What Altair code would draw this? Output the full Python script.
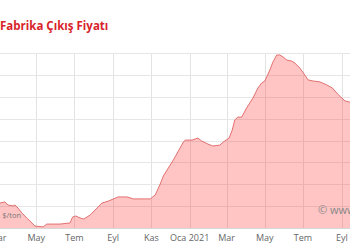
import altair as alt
import pandas as pd

# Price series ($/ton)
dates = [
    "2020-03-04", "2020-03-12", "2020-03-17", "2020-03-25", "2020-03-28", "2020-04-02",
    "2020-04-08", "2020-04-16", "2020-04-29", "2020-05-12", "2020-05-18", "2020-06-08",
    "2020-06-24", "2020-06-28", "2020-07-03", "2020-07-10", "2020-07-16", "2020-07-26",
    "2020-08-03", "2020-08-14", "2020-08-24", "2020-09-09", "2020-09-23", "2020-10-03",
    "2020-10-30", "2020-11-07", "2020-11-15", "2020-11-20", "2020-12-06", "2020-12-22",
    "2020-12-25", "2021-01-05", "2021-01-14", "2021-01-20", "2021-01-30", "2021-02-07",
    "2021-02-18", "2021-02-26", "2021-03-05", "2021-03-10", "2021-03-14", "2021-03-19",
    "2021-03-25", "2021-04-02", "2021-04-12", "2021-04-20", "2021-04-26", "2021-05-01",
    "2021-05-09", "2021-05-14", "2021-05-20", "2021-05-25", "2021-05-30", "2021-06-05",
    "2021-06-13", "2021-06-18", "2021-06-26", "2021-07-04", "2021-07-09", "2021-07-17",
    "2021-07-28", "2021-08-08", "2021-08-17", "2021-08-25", "2021-09-01", "2021-09-06",
    "2021-09-13", "2021-09-21",
]
values = [
    414, 419, 405, 401, 405, 391,
    369, 346, 309, 305, 318, 318,
    323, 350, 355, 346, 341, 359,
    382, 414, 423, 442, 442, 433,
    433, 451, 501, 538, 611, 693,
    702, 702, 711, 698, 684, 675,
    679, 698, 711, 748, 794, 807,
    807, 849, 894, 940, 963, 972,
    1022, 1059, 1091, 1091, 1082, 1068,
    1063, 1054, 1031, 999, 977, 972,
    968, 954, 940, 913, 894, 881,
    876, 871,
]

# x-axis ticks (every two months) and their Turkish labels
tick_dates = ["2020-03-01", "2020-05-01", "2020-07-01", "2020-09-01", "2020-11-01",
              "2021-01-01", "2021-03-01", "2021-05-01", "2021-07-01", "2021-09-01"]
tick_labels = ["Mar", "May", "Tem", "Eyl", "Kas", "Oca 2021", "Mar", "May", "Tem", "Eyl"]
y_ticks = [300, 400, 500, 600, 700, 800, 900, 1000, 1100]

title_text = "Fabrika Çıkış Fiyatı"
unit_text = "e, $/ton"
credit_text = "© www"

df = pd.DataFrame({"date": dates, "value": values})
ticks_df = pd.DataFrame({"date": tick_dates, "label": tick_labels})

x_scale = alt.Scale(
    type="utc",
    domain=[alt.DateTime(year=2020, month=3, date=1, utc=True),
            alt.DateTime(year=2021, month=9, date=14, utc=True)],
    range=[-2, 350],
)

x_enc = alt.X(
    "date:T",
    scale=x_scale,
    axis=alt.Axis(
        values=[alt.DateTime(year=int(d[:4]), month=int(d[5:7]), date=1, utc=True) for d in tick_dates],
        tickCount=30,
        labels=False,
        title=None,
        grid=True,
        gridColor="#e3e3e3",
        ticks=False,
        domain=True,
        domainColor="#d6d6d6",
    ),
)
y_enc = alt.Y(
    "value:Q",
    scale=alt.Scale(domain=[300, 1100], nice=False, zero=False),
    axis=alt.Axis(values=y_ticks, tickCount=30, labels=False, ticks=False, domain=False, title=None,
                  grid=True, gridColor="#e6e6e6"),
)

base = alt.Chart(df)
area = base.mark_area(clip=True, color="#ff3b3b", fillOpacity=0.3).encode(x=x_enc, y=y_enc)
line = base.mark_line(clip=True, color="#e27070", strokeWidth=1).encode(x="date:T", y="value:Q")

labels = alt.Chart(ticks_df).mark_text(
    align="center", baseline="middle", font="Open Sans", fontSize=9, color="#666666"
).encode(x="date:T", y=alt.value(185), text="label:N")

title = alt.Chart(pd.DataFrame({"t": [title_text]})).mark_text(
    align="left", baseline="middle", font="Open Sans", fontSize=11.5, fontWeight="bold", color="#d8232a"
).encode(x=alt.value(0), y=alt.value(-26), text="t:N")

unit = alt.Chart(pd.DataFrame({"t": [unit_text]})).mark_text(
    align="right", baseline="middle", font="Open Sans", fontSize=7.5, color="#777777"
).encode(x=alt.value(21), y=alt.value(163), text="t:N")

credit = alt.Chart(pd.DataFrame({"t": [credit_text]})).mark_text(
    align="left", baseline="middle", font="Open Sans", fontSize=11, color="#888888"
).encode(x=alt.value(318), y=alt.value(158), text="t:N")

chart = alt.layer(area, line, labels, title, unit, credit).properties(
    width=350,
    height=175,
    autosize=alt.AutoSizeParams(type="none"),
    padding={"left": 0, "top": 53, "right": 0, "bottom": 16},
).configure_view(stroke=None)

chart.save("out.html", embed_options={"renderer": "svg", "actions": False})
